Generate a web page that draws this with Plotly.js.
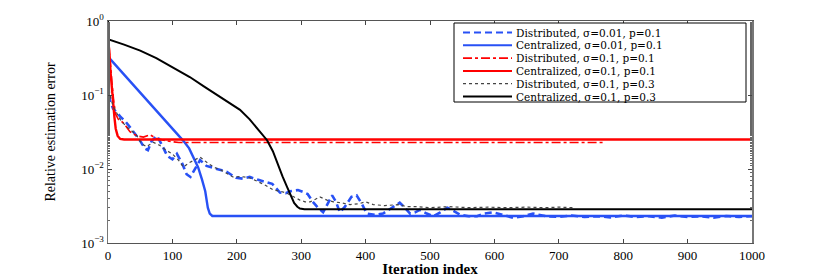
<!DOCTYPE html>
<html>
<head>
<meta charset="utf-8">
<script src="https://cdn.plot.ly/plotly-3.0.1.min.js"></script>
<style>html,body{margin:0;padding:0;background:#fff;}#chart{width:830px;height:277px;}</style>
</head>
<body>
<div id="chart"></div>
<script>
// Series names
const seriesNames = [
  "Distributed, σ=0.01, p=0.1",
  "Centralized, σ=0.01, p=0.1",
  "Distributed, σ=0.1, p=0.1",
  "Centralized, σ=0.1, p=0.1",
  "Distributed, σ=0.1, p=0.3",
  "Centralized, σ=0.1, p=0.3"
];

// Distributed, sigma=0.01, p=0.1 (blue dashed)
const distA_x = [0,3,8,14,20,26,34,42,50,57,62,68,76,84,92,100,107,115,122,128,134,143,153,163,175,184,192,199,210,220,232,245,255,267,276,283,295,303,310,318,326,334,341,348,354,360,368,378,386,394,402,414,427,440,453,461,469,477,484,495,505,516,527,537,547,560,573,585,598,613,629,645,660,680,700,720,740,760,780,800,820,840,860,880,900,920,940,960,980,1000];
const distA_y = [0.14,0.085,0.065,0.058,0.05,0.045,0.037,0.03,0.024,0.019,0.018,0.024,0.028,0.021,0.015,0.0135,0.016,0.012,0.0085,0.0078,0.0095,0.0132,0.011,0.0104,0.0098,0.0092,0.0083,0.0076,0.0074,0.0078,0.0072,0.0066,0.0063,0.0048,0.0047,0.005,0.0052,0.0049,0.0046,0.0036,0.003,0.0026,0.0034,0.0044,0.0036,0.0026,0.0031,0.0042,0.0044,0.0034,0.0025,0.0024,0.0025,0.003,0.0035,0.003,0.0025,0.0026,0.0028,0.0025,0.0023,0.0026,0.003,0.0027,0.0024,0.0023,0.0023,0.0025,0.0026,0.0024,0.0022,0.0023,0.0025,0.0023,0.00225,0.00235,0.00225,0.0023,0.00222,0.00235,0.00225,0.0023,0.0022,0.00235,0.00225,0.0023,0.0022,0.00232,0.00225,0.0023];

// Centralized, sigma=0.01, p=0.1 (blue solid)
const centA_x = [0,19,50,65,91,117,126,132,140,146,151,155,158,162,1000];
const centA_y = [0.33,0.216,0.108,0.077,0.043,0.024,0.019,0.015,0.0105,0.0072,0.005,0.003,0.0025,0.00232,0.00232];

// Distributed, sigma=0.1, p=0.1 (red dash-dot)
const distB_x = [0,2,4,6,9,12,16,20,26,34,45,55,65,75,90,110,770];
const distB_y = [0.55,0.4,0.25,0.15,0.08,0.055,0.047,0.045,0.04,0.032,0.028,0.027,0.029,0.026,0.024,0.0228,0.0228];

// Centralized, sigma=0.1, p=0.1 (red solid)
const centB_x = [0,2,4,6,8,10,12,15,19,25,1000];
const centB_y = [0.55,0.4,0.2,0.12,0.08,0.05,0.035,0.028,0.0255,0.025,0.025];

// Distributed, sigma=0.1, p=0.3 (gray dotted)
const distC_x = [0,3,8,14,20,28,36,44,52,60,70,80,90,100,110,117,125,135,143,155,165,174,184,194,207,220,232,245,257,268,278,288,298,306,314,322,329,340,350,362,376,390,400,412,430,450,465,480,500,530,560,590,620,650,680,700,725];
const distC_y = [0.17,0.1,0.07,0.055,0.045,0.038,0.033,0.029,0.022,0.02,0.023,0.021,0.018,0.016,0.013,0.0106,0.012,0.0135,0.0145,0.012,0.0105,0.0098,0.0088,0.0078,0.0079,0.0076,0.0068,0.006,0.0052,0.005,0.0047,0.0042,0.0038,0.0036,0.0036,0.0039,0.0042,0.0038,0.0036,0.0035,0.0033,0.0034,0.0036,0.0033,0.0032,0.0033,0.0031,0.0031,0.003,0.0031,0.003,0.00305,0.003,0.00305,0.003,0.00305,0.003];

// Centralized, sigma=0.1, p=0.3 (black solid)
const centC_x = [0,1,25,50,75,100,127,150,175,190,205,220,235,247,256,264,271,278,284,289,294,298,305,1000];
const centC_y = [1.0,0.562,0.479,0.398,0.316,0.240,0.175,0.129,0.0933,0.0759,0.0631,0.0468,0.0331,0.0245,0.0174,0.0112,0.00794,0.00575,0.00427,0.00347,0.00309,0.00292,0.00285,0.00285];

// Tick labels
const yTickVals = [0.001,0.01,0.1,1];
const yTickText = ["10<sup>−3</sup>","10<sup>−2</sup>","10<sup>−1</sup>","10<sup>0</sup>"];
const xTickVals = [0,100,200,300,400,500,600,700,800,900,1000];

const styles = [
  {color:'#2851f5', width:2.6, dash:'7px,4px'},
  {color:'#2851f5', width:2.4},
  {color:'#ff0000', width:1.6, dash:'dashdot'},
  {color:'#ff0000', width:2.4},
  {color:'#444444', width:1.2, dash:'dot'},
  {color:'#000000', width:2}
];
const xs = [distA_x, centA_x, distB_x, centB_x, distC_x, centC_x];
const ys = [distA_y, centA_y, distB_y, centB_y, distC_y, centC_y];

const traces = xs.map((x, i) => ({x: x, y: ys[i], name: seriesNames[i], mode:'lines', line: styles[i], showlegend:false}));

// Compact legend box (plot area: 108..752 px wide, 21..243 px tall)
const L = 108, R = 752, T = 21, B = 243;
const px2x = p => (p - L) / (R - L);
const px2y = p => (B - p) / (B - T);
const shapes = [{type:'rect', xref:'paper', yref:'paper', x0:px2x(454), x1:px2x(746), y0:px2y(102), y1:px2y(23),
  line:{color:'#000', width:1}, fillcolor:'#fff', layer:'above'}];
const annotations = [];
seriesNames.forEach((name, i) => {
  const rowY = px2y(32.5 + 12.8 * i);
  shapes.push({type:'line', xref:'paper', yref:'paper', x0:px2x(463), x1:px2x(512), y0:rowY, y1:rowY,
    line:{color:styles[i].color, width:Math.min(styles[i].width, 2), dash:styles[i].dash || 'solid'}, layer:'above'});
  annotations.push({xref:'paper', yref:'paper', x:px2x(515), y:rowY, xanchor:'left', yanchor:'middle',
    text:name, showarrow:false, borderpad:0, font:{family:"'DejaVu Serif', serif", size:10.5, color:'#000'}});
});

const serif = "'Liberation Serif', 'Times New Roman', serif";
const layout = {
  width: 830, height: 277,
  margin: {l:108, r:78, t:21, b:34},
  paper_bgcolor:'#fff', plot_bgcolor:'#fff',
  showlegend: false,
  font: {family: serif, color:'#000'},
  shapes: shapes,
  annotations: annotations,
  xaxis: {
    range:[0,1000], tickvals:xTickVals, ticks:'inside', ticklen:4, tickcolor:'#444',
    showline:true, linecolor:'#555', linewidth:1, mirror:'ticks', showgrid:false, zeroline:false,
    tickfont:{family:serif, size:13, color:'#000'}, automargin:false,
    title:{text:'<b>Iteration index</b>', font:{family:serif, size:15, color:'#000'}, standoff:4}
  },
  yaxis: {
    type:'log', range:[-3,0], tickvals:yTickVals, ticktext:yTickText, ticks:'inside', ticklen:4, tickcolor:'#444',
    minor:{ticks:'inside', ticklen:2, tickcolor:'#666', showgrid:false},
    showline:true, linecolor:'#777', linewidth:1.5, mirror:'ticks', showgrid:false, zeroline:false,
    tickfont:{family:serif, size:13, color:'#000'}, automargin:false,
    title:{text:'Relative estimation error', font:{family:serif, size:14, color:'#000'}, standoff:22}
  }
};

Plotly.newPlot('chart', traces, layout, {displayModeBar:false, staticPlot:true});
</script>
</body>
</html>
